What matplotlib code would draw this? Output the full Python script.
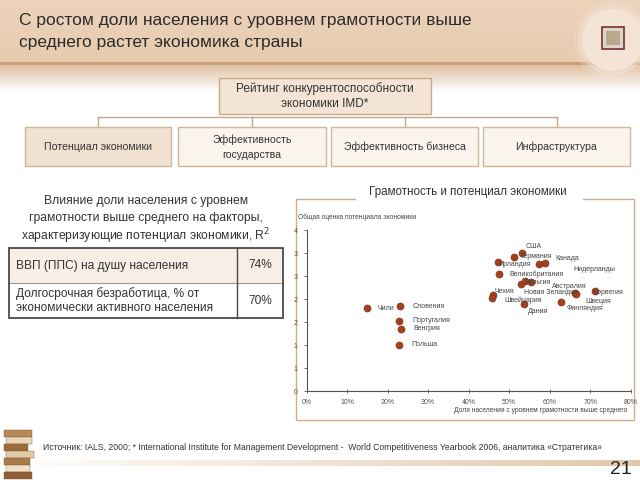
import numpy as np
import matplotlib
matplotlib.use("Agg")
import matplotlib.pyplot as plt
from matplotlib.patches import Rectangle, Circle

# ---------------- data ----------------
title_lines = ["С ростом доли населения с уровнем грамотности выше",
               "среднего растет экономика страны"]
top_box = ["Рейтинг конкурентоспособности", "экономики IMD*"]
factor_boxes = ["Потенциал экономики", "Эффективность\nгосударства",
                "Эффективность бизнеса", "Инфраструктура"]
left_heading = ["Влияние доли населения с уровнем",
                "грамотности выше среднего на факторы,",
                "характеризующие потенциал экономики, R$^2$"]
table_rows = ["ВВП (ППС) на душу населения",
              "Долгосрочная безработица, % от\nэкономически активного населения"]
table_vals = ["74%", "70%"]
panel_title = "Грамотность и потенциал экономики"

countries = ["Чили", "Словения", "Португалия", "Венгрия", "Польша",
             "Чехия", "Швейцария", "Ирландия", "Великобритания", "Германия",
             "США", "Нидерланды", "Канада", "Новая Зеландия", "Бельгия", "",
             "Дания", "Финляндия", "Австралия", "Швеция", "Норвегия"]
literacy = [0.149, 0.231, 0.228, 0.233, 0.228,
            0.461, 0.458, 0.472, 0.475, 0.511,
            0.532, 0.573, 0.589, 0.528, 0.538, 0.555,
            0.537, 0.627, 0.663, 0.666, 0.712]
potential = [1.80, 1.85, 1.53, 1.36, 1.01,
             2.08, 2.03, 2.82, 2.54, 2.91,
             3.01, 2.77, 2.79, 2.32, 2.40, 2.37,
             1.90, 1.94, 2.13, 2.11, 2.17]
# label offsets in pixels (dx, dy)
label_off = [(10, 0), (12, 0), (13, 0), (12, 0), (12, 0),
             (1, 4), (12, -2), (1, -3), (10, 0), (7, 1),
             (3, 6), (35, -6), (10, 4), (3, -8), (0, -2), (0, 0),
             (4, -8), (6, -7), (-23, 7), (9, -7), (-3, -1)]
y_ticks = [0, 0.5, 1, 1.5, 2, 2.5, 3, 3.5]
y_tick_labels = ["0", "1", "1", "2", "2", "3", "3", "4"]
x_ticks = [0, 0.1, 0.2, 0.3, 0.4, 0.5, 0.6, 0.7, 0.8]
x_tick_labels = ["0%", "10%", "20%", "30%", "40%", "50%", "60%", "70%", "80%"]
y_label = "Общая оценка потенциала экономики"
x_label = "Доля населения с уровнем грамотности выше среднего"
source = ("Источник: IALS, 2000; * International Institute for Management Development -  "
          "World Competitiveness Yearbook 2006, аналитика «Стратегика»")
page_no = "21"

# ---------------- figure ----------------
SANS = ["Liberation Sans", "DejaVu Sans"]
plt.rcParams["font.family"] = SANS

W, H = 640, 480
fig = plt.figure(figsize=(6.4, 4.8), dpi=100)
bg = fig.add_axes([0, 0, 1, 1])
bg.set_xlim(0, W)
bg.set_ylim(H, 0)
bg.axis("off")

# title band
top = np.array([236, 211, 186]) / 255
bot = np.array([231, 203, 175]) / 255
t = np.linspace(0, 1, 64)[:, None, None]
band = top * (1 - t) + bot * t
band = np.concatenate([band, band], axis=1)
bg.imshow(band, extent=(0, W, 62, 0), aspect="auto", zorder=0)
# shadow under band
sh = np.linspace(0, 1, 30)[:, None, None]
c0 = np.array([222, 190, 160]) / 255
c1 = np.array([1.0, 1.0, 1.0])
shade = c0 * (1 - sh) + c1 * sh
shade = np.concatenate([shade, shade], axis=1)
bg.imshow(shade, extent=(0, W, 92, 64), aspect="auto", zorder=0)
bg.plot([0, W], [63, 63], color="#c79f79", lw=2.2, zorder=1)

# emblem circle
for r, a in [(40, 0.25), (35, 0.45), (31, 1.0)]:
    bg.add_patch(Circle((613, 40), r, color="#f3e4d5", alpha=a, zorder=2, lw=0))
bg.add_patch(Rectangle((602, 27), 22, 22, facecolor="#ddd5c8", edgecolor="#7a2d3a", lw=1.2, zorder=3))
bg.add_patch(Rectangle((606, 31), 14, 14, facecolor="#b9a98c", edgecolor="none", zorder=3))

for i, line in enumerate(title_lines):
    bg.text(19, 21 + i * 21, line, fontsize=12.5, color="#2b2b2b",
            va="center", ha="left", zorder=4)

# org chart
bg.add_patch(Rectangle((219, 78), 212, 36, facecolor="#f3e4d5", edgecolor="#c7a988", lw=1.0, zorder=2))
bg.text(325, 89, top_box[0], fontsize=8.5, ha="center", va="center", color="#333", zorder=3)
bg.text(325, 104, top_box[1], fontsize=8.5, ha="center", va="center", color="#333", zorder=3)
lc = "#bda78f"
box_x = [(25, 171), (178, 326), (331, 478), (483, 630)]
centers = [(a + b) / 2 for a, b in box_x]
bg.plot([centers[0], centers[-1]], [117, 117], color=lc, lw=1.0, zorder=1)
for cx in centers:
    bg.plot([cx, cx], [117, 127], color=lc, lw=1.0, zorder=1)
for i, ((a, b), txt) in enumerate(zip(box_x, factor_boxes)):
    fc = "#f1e1d0" if i == 0 else "#fbf4ed"
    bg.add_patch(Rectangle((a, 127), b - a, 39, facecolor=fc, edgecolor="#d0b597", lw=1.0, zorder=2))
    bg.text((a + b) / 2, 147, txt, fontsize=7.6, ha="center", va="center", color="#333",
            linespacing=1.6, zorder=3)

# left heading and table
for i, line in enumerate(left_heading):
    bg.text(146, 201 + i * 17.5, line, fontsize=8.7, ha="center", va="center", color="#333")
bg.add_patch(Rectangle((9, 248), 274, 35, facecolor="#f8eee6", edgecolor="none", zorder=1))
bg.add_patch(Rectangle((9, 248), 274, 70, facecolor="none", edgecolor="#4a4a4a", lw=1.3, zorder=3))
bg.plot([9, 283], [283, 283], color="#9a9a9a", lw=0.8, zorder=2)
bg.plot([237, 237], [248, 318], color="#4a4a4a", lw=1.0, zorder=3)
for i, (txt, val) in enumerate(zip(table_rows, table_vals)):
    yc = 265.5 + i * 35
    bg.text(16, yc, txt, fontsize=8.6, ha="left", va="center", color="#333", linespacing=1.25)
    bg.text(260, yc, val, fontsize=8.6, ha="center", va="center", color="#333")

# right panel frame
fc = "#cdb08a"
bg.plot([355, 296, 296, 634, 634, 583], [199, 199, 420, 420, 199, 199], color=fc, lw=1.0)
bg.text(468, 192, panel_title, fontsize=8.4, ha="center", va="center", color="#333")

# source & footer
bg.text(43, 447, source, fontsize=6.2, ha="left", va="center", color="#333")
foot = np.linspace(0, 1, 60)[None, :, None]
fcol = np.array([1, 1, 1]) * (1 - foot) + np.array([226, 200, 172]) / 255 * foot
fcol = np.concatenate([fcol, fcol], axis=0)
bg.imshow(fcol, extent=(0, W, 466, 460), aspect="auto", zorder=0)
bg.text(632, 469, page_no, fontsize=14, ha="right", va="center", color="#222")

# books icon
book_cols = ["#b58a5a", "#e8d6b8", "#9c6b3c", "#e2cba6", "#a97a4a", "#efe0c6", "#8e5f34"]
for i, c in enumerate(book_cols):
    y0 = 430 + i * 7
    bg.add_patch(Rectangle((4 + (i % 2) * 2, y0), 28 - (i % 3) * 2, 6.5, facecolor=c,
                           edgecolor="#7d5a38", lw=0.3, zorder=2))

# ---------------- scatter ----------------
x0, x1 = 306.7, 630.7
y0p, y1p = 391, 230.3
ax = fig.add_axes([x0 / W, (H - y0p) / H, (x1 - x0) / W, (y0p - y1p) / H])
ax.patch.set_alpha(0)
ax.set_xlim(0, 0.8)
ax.set_ylim(0, 3.5)
ax.scatter(literacy, potential, s=26, color="#a3401e", edgecolor="#7c2c12", lw=0.4, zorder=3,
           clip_on=False)
for name, xv, yv, (dx, dy) in zip(countries, literacy, potential, label_off):
    if name:
        ax.annotate(name, (xv, yv), xytext=(dx, dy), textcoords="offset pixels",
                    fontsize=5.0, ha="left", va="center", color="#444")
for s in ["top", "right"]:
    ax.spines[s].set_visible(False)
for s in ["left", "bottom"]:
    ax.spines[s].set_color("#555")
    ax.spines[s].set_linewidth(0.8)
ax.set_xticks(x_ticks)
ax.set_xticklabels(x_tick_labels)
ax.set_yticks(y_ticks)
ax.set_yticklabels(y_tick_labels)
ax.tick_params(labelsize=5, colors="#555", length=2.5, width=0.6, pad=4)
ax.tick_params(axis="x", direction="inout", length=3)
fig.text(298 / W, 1 - 217 / H, y_label, fontsize=4.8, ha="left", va="center", color="#444")
fig.text(627 / W, 1 - 411 / H, x_label, fontsize=4.8, ha="right", va="center", color="#444")

fig.savefig("out.png", dpi=100)
